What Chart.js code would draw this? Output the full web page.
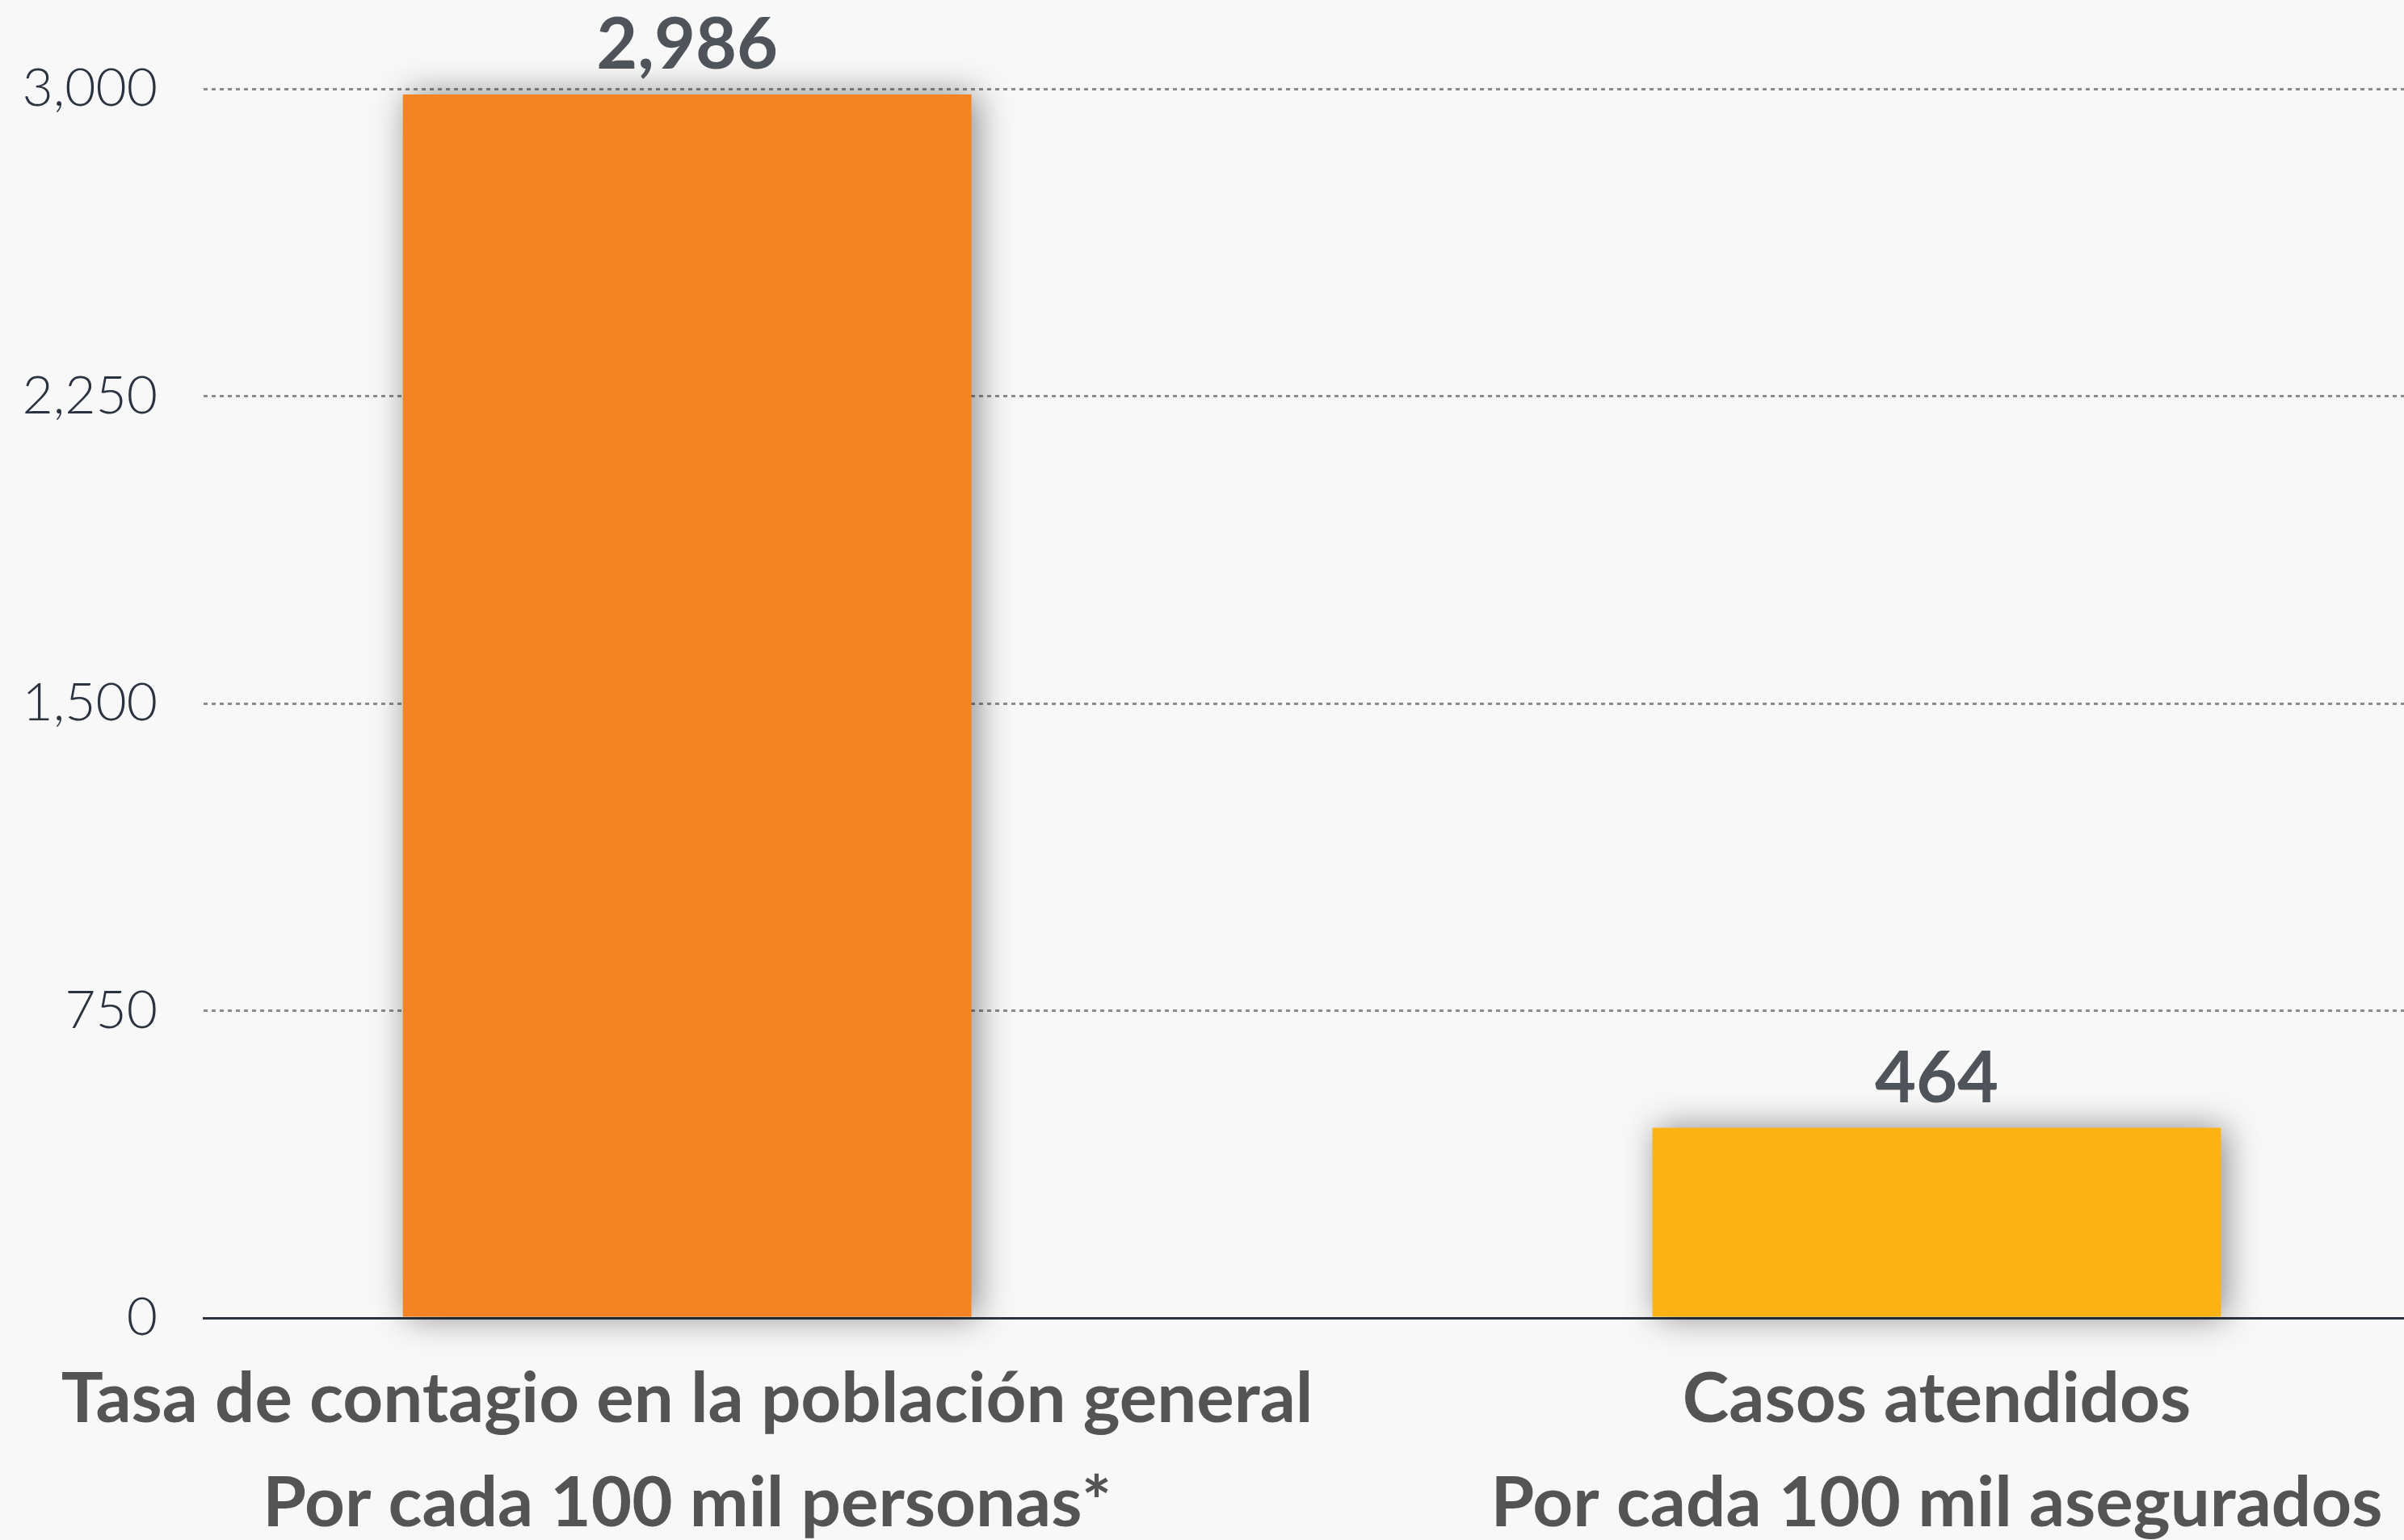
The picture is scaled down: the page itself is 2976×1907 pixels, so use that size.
<!DOCTYPE html>
<html>
<head>
<meta charset="utf-8">
<script src="https://cdn.jsdelivr.net/npm/chart.js@4.4.0/dist/chart.umd.min.js"></script>
<style>
html, body { margin: 0; padding: 0; background: #f8f8f8; overflow: hidden; }
#wrap { width: 2976px; height: 1907px; }
</style>
</head>
<body>
<div id="wrap"><canvas id="chart" width="2976" height="1907"></canvas></div>
<script>
const categories = [
    ['Tasa de contagio en la población general', 'Por cada 100 mil personas*'],
    ['Casos atendidos', 'Por cada 100 mil asegurados']
];
const values = [2986, 464];
const barColors = ['#f48423', '#fbb313'];
const yTicks = [0, 750, 1500, 2250, 3000];

// soft shadow behind the bars
const barShadow = {
    id: 'barShadow',
    beforeDatasetsDraw(chart) {
        const ctx = chart.ctx;
        ctx.save();
        ctx.shadowColor = 'rgba(0,0,0,0.45)';
        ctx.shadowBlur = 40;
        ctx.shadowOffsetX = 6;
        ctx.shadowOffsetY = 0;
    },
    afterDatasetsDraw(chart) {
        chart.ctx.restore();
    }
};

// value labels above each bar
const valueLabels = {
    id: 'valueLabels',
    afterDraw(chart) {
        const ctx = chart.ctx;
        const meta = chart.getDatasetMeta(0);
        ctx.save();
        ctx.font = 'bold 88px Lato';
        ctx.fillStyle = '#4f545b';
        ctx.textAlign = 'center';
        ctx.textBaseline = 'alphabetic';
        meta.data.forEach((bar, i) => {
            ctx.fillText(values[i].toLocaleString('en-US'), bar.x, bar.y - 32);
        });
        ctx.restore();
    }
};

const ctx = document.getElementById('chart').getContext('2d');
new Chart(ctx, {
    type: 'bar',
    data: {
        datasets: [{
            data: values.map((v, i) => ({ x: i, y: v })),
            backgroundColor: barColors,
            borderWidth: 0,
            categoryPercentage: 1,
            barPercentage: 0.455,
            clip: false
        }]
    },
    options: {
        responsive: false,
        animation: false,
        devicePixelRatio: 1,
        layout: { padding: { top: 110, left: 0, right: 0, bottom: 0 } },
        plugins: {
            legend: { display: false },
            tooltip: { enabled: false }
        },
        scales: {
            x: {
                type: 'linear',
                offset: false,
                min: -0.387,
                max: 1.374,
                afterBuildTicks: s => { s.ticks = categories.map((c, i) => ({ value: i })); },
                afterFit: s => {
                    s.height = 275;
                    s.paddingLeft = 0;
                    s.paddingRight = 0;
                },
                ticks: {
                    callback: v => categories[v],
                    autoSkip: false,
                    maxRotation: 0,
                    color: '#545454',
                    padding: 37,
                    font: { family: 'Lato', weight: 'bold', size: 87, lineHeight: 1.48 }
                },
                grid: { display: true, drawOnChartArea: false, drawTicks: false },
                border: { display: true, color: '#2d3440', width: 3 }
            },
            y: {
                min: 0,
                max: 3000,
                afterBuildTicks: s => { s.ticks = yTicks.map(v => ({ value: v })); },
                afterFit: s => { s.width = 252; },
                ticks: {
                    callback: v => v.toLocaleString('en-US'),
                    color: '#2b3340',
                    padding: 57,
                    font: { family: 'Lato', weight: 300, size: 66 }
                },
                grid: {
                    color: c => c.tick && c.tick.value === 0 ? 'rgba(0,0,0,0)' : '#8c8c8c',
                    lineWidth: 3,
                    drawTicks: false
                },
                border: { display: false, dash: [5, 5] }
            }
        }
    },
    plugins: [barShadow, valueLabels]
});
</script>
</body>
</html>
